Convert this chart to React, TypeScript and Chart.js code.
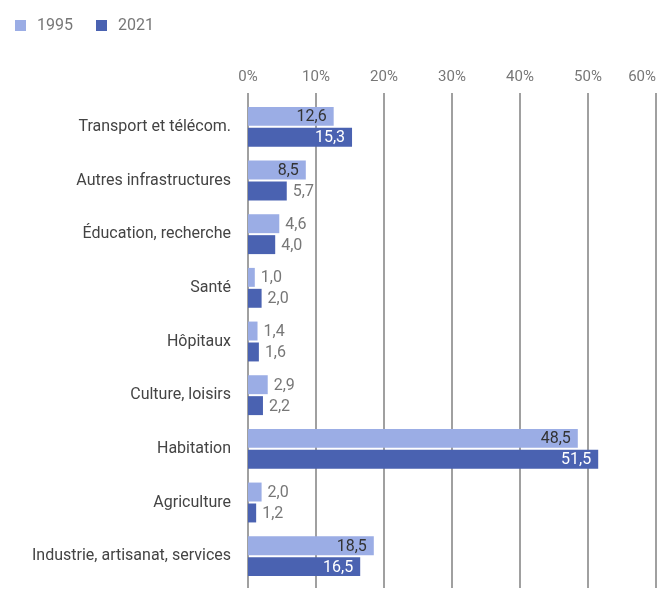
import { useEffect, useRef } from "react";
import { Chart, registerables } from "chart.js";

Chart.register(...registerables);

const categories = [
  "Transport et télécom.",
  "Autres infrastructures",
  "Éducation, recherche",
  "Santé",
  "Hôpitaux",
  "Culture, loisirs",
  "Habitation",
  "Agriculture",
  "Industrie, artisanat, services",
];
const seriesLabels = ["1995", "2021"];
const values1995 = [12.6, 8.5, 4.6, 1.0, 1.4, 2.9, 48.5, 2.0, 18.5];
const values2021 = [15.3, 5.7, 4.0, 2.0, 1.6, 2.2, 51.5, 1.2, 16.5];
const xTicks = [0, 10, 20, 30, 40, 50, 60];
const colors = ["#9badE5", "#4a62b1"];

const FONT = "Roboto, 'Noto Sans', sans-serif";

const decorPlugin = {
  id: "decor",
  beforeDatasetsDraw(chart: any) {
    const ctx = chart.ctx;
    const xs = chart.scales.x;
    ctx.save();
    ctx.strokeStyle = "#a0a0a0";
    ctx.lineWidth = 2;
    xTicks.forEach((v) => {
      const x = Math.round(xs.getPixelForValue(v));
      ctx.beginPath();
      ctx.moveTo(x, chart.chartArea.top - 7);
      ctx.lineTo(x, chart.chartArea.bottom + 5);
      ctx.stroke();
    });
    ctx.font = `15px ${FONT}`;
    ctx.fillStyle = "#777777";
    ctx.textBaseline = "middle";
    xTicks.forEach((v, i) => {
      const x = xs.getPixelForValue(v);
      ctx.textAlign = i === xTicks.length - 1 ? "right" : "center";
      ctx.fillText(`${v}%`, x, chart.chartArea.top - 23);
    });
    // legend
    ctx.font = `16px ${FONT}`;
    seriesLabels.forEach((lab, i) => {
      const bx = i === 0 ? 7 : 88;
      ctx.fillStyle = colors[i];
      ctx.fillRect(bx, 12, 11, 11);
      ctx.fillStyle = "#777777";
      ctx.textAlign = "left";
      ctx.fillText(lab, bx + 22, 17.5);
    });
    ctx.restore();
  },
  afterDatasetsDraw(chart: any) {
    const ctx = chart.ctx;
    ctx.save();
    ctx.font = `16px ${FONT}`;
    ctx.textBaseline = "middle";
    chart.data.datasets.forEach((ds: any, di: number) => {
      const meta = chart.getDatasetMeta(di);
      meta.data.forEach((bar: any, i: number) => {
        const val = ds.data[i] as number;
        const txt = val.toFixed(1).replace(".", ",");
        const w = bar.x - bar.base;
        if (w > 45) {
          ctx.textAlign = "right";
          ctx.fillStyle = di === 0 ? "#333333" : "#ffffff";
          ctx.fillText(txt, bar.x - 7, bar.y + 1);
        } else {
          ctx.textAlign = "left";
          ctx.fillStyle = "#777777";
          ctx.fillText(txt, bar.x + 6, bar.y + 1);
        }
      });
    });
    ctx.restore();
  },
};

export default function App() {
  const ref = useRef<HTMLCanvasElement | null>(null);
  useEffect(() => {
    if (!ref.current) return;
    const chart = new Chart(ref.current, {
      type: "bar",
      data: {
        labels: categories,
        datasets: [
          {
            label: seriesLabels[0],
            data: values1995,
            backgroundColor: colors[0],
            categoryPercentage: 0.78,
            barPercentage: 0.905,
          },
          {
            label: seriesLabels[1],
            data: values2021,
            backgroundColor: colors[1],
            categoryPercentage: 0.78,
            barPercentage: 0.905,
          },
        ],
      },
      options: {
        indexAxis: "y",
        responsive: false,
        animation: false,
        devicePixelRatio: 1,
        layout: { padding: { top: 92, bottom: 14, right: 5, left: 0 } },
        plugins: {
          legend: { display: false },
          tooltip: { enabled: false },
        },
        scales: {
          x: {
            display: false,
            min: 0,
            max: 60,
          },
          y: {
            grid: { display: false, drawTicks: false },
            border: { display: false },
            ticks: {
              color: "#444444",
              font: { family: FONT, size: 16 },
              padding: 17,
            },
            afterFit: (s: any) => {
              s.width = 240;
              s.paddingTop = 0;
              s.paddingBottom = 0;
            },
          },
        },
      },
      plugins: [decorPlugin],
    });
    return () => chart.destroy();
  }, []);
  return (
    <div style={{ width: 653, height: 589 }}>
      <canvas ref={ref} width={653} height={589} />
    </div>
  );
}
